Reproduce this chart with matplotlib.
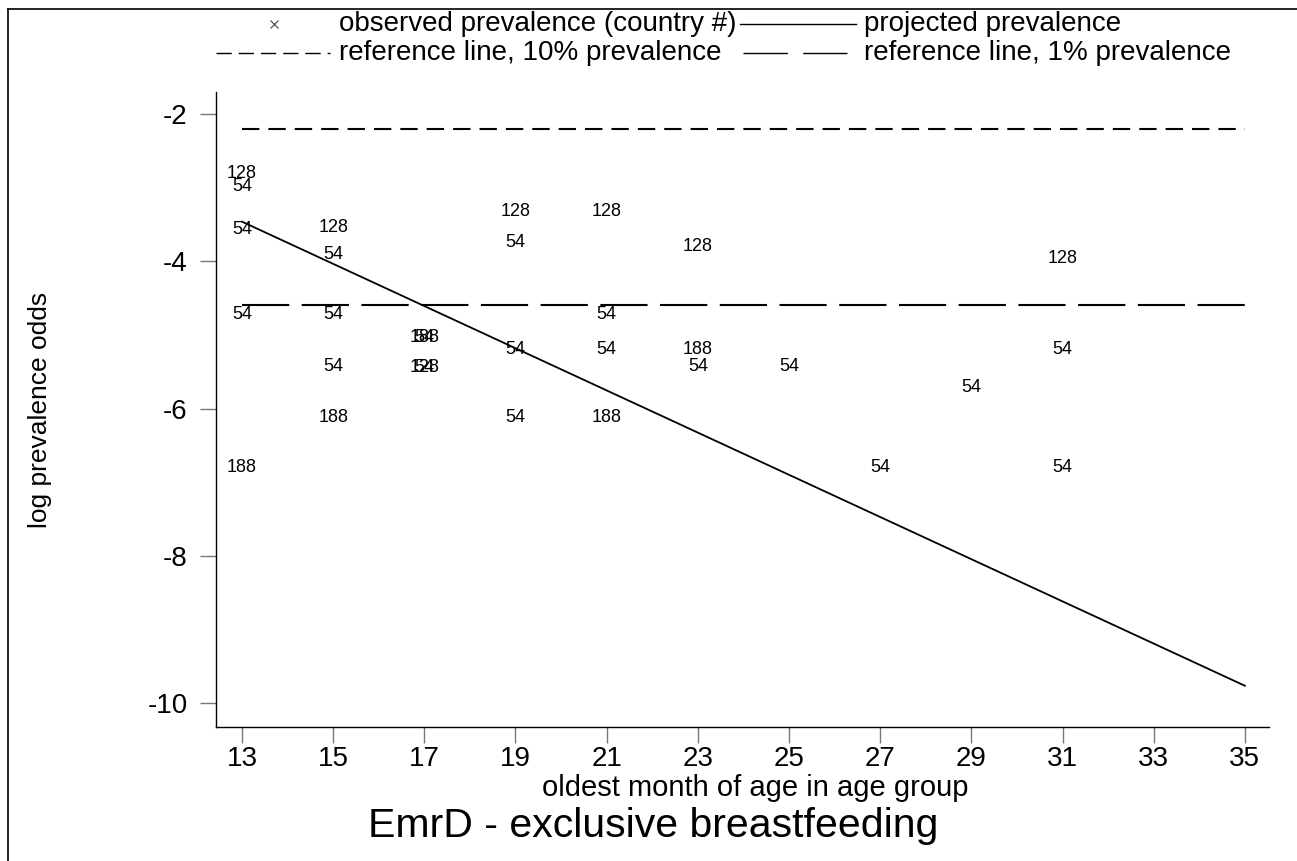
import numpy as np
import matplotlib
matplotlib.use('Agg')
import matplotlib.pyplot as plt
from matplotlib.lines import Line2D

plt.rcParams['font.family'] = ['Liberation Sans', 'DejaVu Sans']
plt.rcParams['lines.scale_dashes'] = False

# observed log prevalence odds, labelled by country number
obs_month = [13, 13, 13, 13, 13,
             15, 15, 15, 15, 15,
             17, 17, 17, 17,
             19, 19, 19, 19,
             21, 21, 21, 21,
             23, 23, 23,
             25,
             27,
             29,
             31, 31, 31]
obs_logodds = [-2.80, -2.98, -3.56, -4.72, -6.80,
               -3.54, -3.90, -4.72, -5.43, -6.12,
               -5.03, -5.03, -5.44, -5.44,
               -3.32, -3.74, -5.19, -6.12,
               -3.32, -4.72, -5.19, -6.12,
               -3.80, -5.19, -5.43,
               -5.43,
               -6.80,
               -5.71,
               -3.96, -5.19, -6.80]
obs_country = [128, 54, 54, 54, 188,
               128, 54, 54, 54, 188,
               54, 188, 54, 128,
               128, 54, 54, 54,
               128, 54, 54, 188,
               128, 188, 54,
               54,
               54,
               54,
               128, 54, 54]

# projected prevalence (straight line)
proj_month = [13, 35]
proj_logodds = [-3.46, -9.76]

# reference lines
ref_month = [13, 35]
ref_prev = [0.10, 0.01]

x_ticks = [13, 15, 17, 19, 21, 23, 25, 27, 29, 31, 33, 35]
y_ticks = [-2, -4, -6, -8, -10]

W, H = 1297, 861
fig = plt.figure(figsize=(W / 100, H / 100), dpi=100)
ax = fig.add_axes([216 / W, (H - 727) / H, (1269 - 216) / W, (727 - 92) / H])

short_dash = (0, (12.5, 6.5))
long_dash = (0, (34, 9))

for month, val, cid in zip(obs_month, obs_logodds, obs_country):
    ax.text(month, val, str(cid), ha='center', va='center', fontsize=13)

ax.plot(proj_month, proj_logodds, color='black', lw=1.3)
ref_odds = [np.log(p / (1 - p)) for p in ref_prev]
ax.plot(ref_month, [ref_odds[0]] * 2, color='black', lw=1.5, linestyle=short_dash)
ax.plot(ref_month, [ref_odds[1]] * 2, color='black', lw=1.5, linestyle=long_dash)

ax.set_xlim(12.43, 35.53)
ax.set_ylim(-10.32, -1.70)
ax.set_xticks(x_ticks)
ax.set_yticks(y_ticks)
ax.set_yticklabels([str(v) for v in y_ticks])
ax.spines['top'].set_visible(False)
ax.spines['right'].set_visible(False)
for s in ['left', 'bottom']:
    ax.spines[s].set_linewidth(1.0)
ax.tick_params(axis='both', direction='out', length=11.5, width=1.0,
               color='#777777', labelsize=20)
ax.tick_params(axis='x', pad=2)
ax.tick_params(axis='y', pad=9)

fig.text(40 / W, (H - 410) / H, 'log prevalence odds', rotation=90,
         ha='center', va='center', fontsize=19)
fig.text(755 / W, (H - 796) / H, 'oldest month of age in age group',
         ha='center', va='baseline', fontsize=21)
fig.text(653 / W, (H - 837) / H, 'EmrD - exclusive breastfeeding',
         ha='center', va='baseline', fontsize=29.5)

# legend drawn by hand in figure pixels
def fx(px):
    return px / W

def fy(py):
    return (H - py) / H

leg_size = 20
row1_base, row2_base = 31, 60
row1_key, row2_key = 24, 53
fig.add_artist(Line2D([fx(274)], [fy(row1_key)], marker='x', markersize=6,
                      color='#444444', markeredgewidth=0.8, linestyle='none'))
fig.text(fx(339), fy(row1_base), 'observed prevalence (country #)', fontsize=leg_size, va='baseline')
fig.add_artist(Line2D([fx(740), fx(856)], [fy(row1_key), fy(row1_key)], color='black', lw=1.0))
fig.text(fx(864.5), fy(row1_base), 'projected prevalence', fontsize=leg_size, va='baseline')
fig.add_artist(Line2D([fx(216), fx(330)], [fy(row2_key), fy(row2_key)], color='black', lw=1.0,
                      linestyle=(0, (11, 5))))
fig.text(fx(339), fy(row2_base), 'reference line, 10% prevalence', fontsize=leg_size, va='baseline')
fig.add_artist(Line2D([fx(743), fx(847)], [fy(row2_key), fy(row2_key)], color='black', lw=1.0,
                      linestyle=(0, (32, 11))))
fig.text(fx(864.5), fy(row2_base), 'reference line, 1% prevalence', fontsize=leg_size, va='baseline')

# outer frame (top and left edges visible)
fig.add_artist(Line2D([fx(8), fx(W)], [fy(9), fy(9)], color='black', lw=1.2))
fig.add_artist(Line2D([fx(8), fx(8)], [fy(9), 0], color='black', lw=1.2))

fig.savefig('out.png', dpi=100)
